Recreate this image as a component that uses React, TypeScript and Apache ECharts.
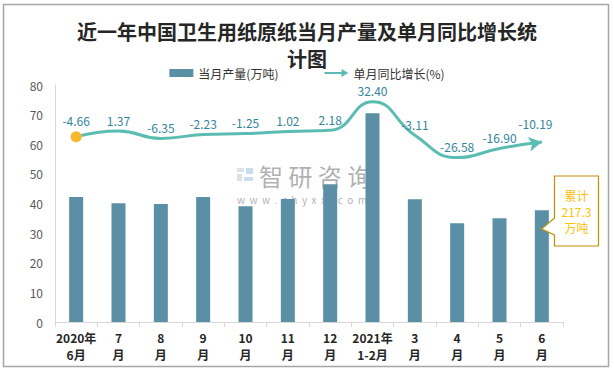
import React, { useEffect, useRef } from "react";
import * as echarts from "echarts";

const categories = [
  "2020年\n6月", "7\n月", "8\n月", "9\n月", "10\n月", "11\n月", "12\n月",
  "2021年\n1-2月", "3\n月", "4\n月", "5\n月", "6\n月",
];
const outputValues = [42.2, 40.1, 39.8, 42.2, 39.1, 41.5, 46.5, 70.5, 41.4, 33.3, 35.0, 37.7];
const growthValues = [-4.66, 1.37, -6.35, -2.23, -1.25, 1.02, 2.18, 32.4, -3.11, -26.58, -16.9, -10.19];
const yTicks = { min: 0, max: 80, interval: 10 };
const titleText = "近一年中国卫生用纸原纸当月产量及单月同比增长统\n计图";
const calloutLines = ["累计", "217.3", "万吨"];

const BAR = "#5B8FA6";
const LINE = "#5BBDB2";
const LABEL = "#31859C";
const FONT = "'Noto Sans CJK SC', 'Noto Sans', sans-serif";

export default function App() {
  const ref = useRef<HTMLDivElement>(null);
  useEffect(() => {
    document.body.style.margin = "0";
    const chart = echarts.init(ref.current!, null, { renderer: "svg" });
    const lineData = growthValues.map((v, i) => {
      if (i === 0) {
        return { value: v, symbol: "circle", symbolSize: 11, itemStyle: { color: "#F5B82E" } };
      }
      if (i === growthValues.length - 1) {
        return { value: v, symbol: "arrow", symbolSize: [11, 13], symbolRotate: -80, itemStyle: { color: LINE } };
      }
      return { value: v, symbol: "circle", symbolSize: 0.01, itemStyle: { color: LINE } };
    });
    chart.setOption({
      animation: false,
      backgroundColor: "#fff",
      textStyle: { fontFamily: FONT },
      title: {
        text: titleText,
        left: "center",
        top: 13,
        textStyle: { fontSize: 20, fontWeight: "bold", color: "#262626", lineHeight: 27, fontFamily: FONT },
      },
      legend: {
        top: 61,
        left: "center",
        itemGap: 46,
        itemWidth: 24,
        itemHeight: 8,
        textStyle: { fontSize: 12, color: "#333", lineHeight: 14 },
        data: [
          { name: "当月产量(万吨)", icon: "rect", itemStyle: { color: BAR } },
          {
            name: "单月同比增长(%)",
            icon: "path://M0,3 L17,3 L17,0 L24,4 L17,8 L17,5 L0,5 Z",
            itemStyle: { color: LINE },
          },
        ],
      },
      grid: { left: 55, right: 51, top: 85, bottom: 50 },
      xAxis: {
        type: "category",
        data: categories,
        boundaryGap: true,
        axisLine: { lineStyle: { color: "#d9d9d9", width: 1 } },
        axisTick: { show: true, length: 5, lineStyle: { color: "#d9d9d9" } },
        axisLabel: {
          interval: 0,
          fontSize: 12,
          fontWeight: "bold",
          color: "#262626",
          lineHeight: 17,
          margin: 7,
        },
      },
      yAxis: [
        {
          type: "value",
          min: yTicks.min,
          max: yTicks.max,
          interval: yTicks.interval,
          axisLine: { show: true, lineStyle: { color: "#d9d9d9" } },
          axisTick: { show: false },
          splitLine: { show: false },
          axisLabel: { fontSize: 12, color: "#595959", margin: 12 },
        },
        { type: "value", min: -200, max: 50, show: false, splitLine: { show: false } },
      ],
      graphic: [
        {
          type: "rect",
          shape: { x: 3.5, y: 4.5, width: 605, height: 362 },
          style: { fill: "none", stroke: "#a6a6a6", lineWidth: 1.5 },
          silent: true,
          z: 0,
        },
        {
          type: "group",
          silent: true,
          z: 1,
          children: [
            { type: "rect", shape: { x: 237, y: 168, width: 7, height: 4 }, style: { fill: "#d6dde6", opacity: 0.85 } },
            { type: "rect", shape: { x: 237, y: 174, width: 5, height: 7 }, style: { fill: "#d6dde6", opacity: 0.85 } },
            { type: "rect", shape: { x: 246, y: 168, width: 7, height: 6 }, style: { fill: "#bcd8ec", opacity: 0.85 } },
            { type: "rect", shape: { x: 244, y: 177, width: 9, height: 4 }, style: { fill: "#bcd8ec", opacity: 0.85 } },
            {
              type: "text",
              x: 259,
              y: 163,
              style: { text: "智 研 咨 询", fontSize: 24, fill: "rgba(150,150,150,0.75)", fontFamily: FONT },
            },
            {
              type: "text",
              x: 237,
              y: 194,
              style: {
                text: "w  w  w  .  c  h  y  x  x  .  c  o  m",
                fontSize: 10,
                fill: "rgba(150,150,150,0.75)",
                fontFamily: FONT,
              },
            },
          ],
        },
        {
          type: "polygon",
          z: 10,
          shape: {
            points: [
              [554.5, 176], [598.5, 176], [598.5, 246], [554.5, 246],
              [554.5, 235], [541.5, 229], [554.5, 218],
            ],
          },
          style: { fill: "#fff", stroke: "#BF9000", lineWidth: 1.2 },
        },
        {
          type: "text",
          z: 11,
          x: 576.5,
          y: 211,
          style: {
            text: calloutLines.join("\n"),
            fontSize: 12,
            lineHeight: 16,
            fill: "#FFC000",
            align: "center",
            verticalAlign: "middle",
            fontFamily: FONT,
          },
        },
      ],
      series: [
        {
          name: "当月产量(万吨)",
          type: "bar",
          data: outputValues,
          barWidth: 14,
          itemStyle: { color: BAR },
          z: 2,
        },
        {
          name: "单月同比增长(%)",
          type: "line",
          yAxisIndex: 1,
          smooth: true,
          symbol: "circle",
          showSymbol: true,
          data: lineData,
          lineStyle: { color: LINE, width: 3 },
          itemStyle: { color: LINE },
          label: {
            show: true,
            position: "top",
            distance: 5,
            fontSize: 12,
            color: LABEL,
            formatter: (p: any) => Number(p.value).toFixed(2),
          },
          z: 3,
        },
      ],
    });
    return () => chart.dispose();
  }, []);
  return <div ref={ref} style={{ width: 614, height: 372 }} />;
}
